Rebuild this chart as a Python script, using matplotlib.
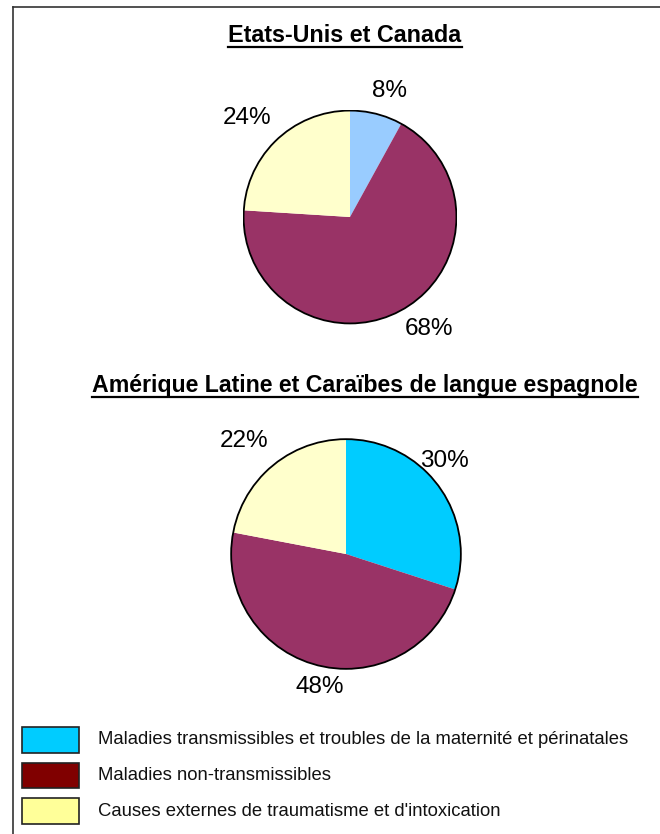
import numpy as np
import matplotlib.pyplot as plt
from matplotlib.patches import Circle, Rectangle
from matplotlib.lines import Line2D

plt.rcParams['font.family'] = ['Liberation Sans', 'DejaVu Sans']

W, H = 660, 834

# données
titres = ["Etats-Unis et Canada",
          "Amérique Latine et Caraïbes de langue espagnole"]
parts_usa = [8, 68, 24]
parts_alc = [30, 48, 22]
couleurs_usa = ['#99CCFF', '#993366', '#FFFFCC']
couleurs_alc = ['#00CCFF', '#993366', '#FFFFCC']
categories = ["Maladies transmissibles et troubles de la maternité et périnatales",
              "Maladies non-transmissibles",
              "Causes externes de traumatisme et d'intoxication"]
couleurs_legende = ['#00CCFF', '#800000', '#FFFF99']

# placement des étiquettes : distance au centre (en rayons) et décalage d'angle (degrés)
dist_usa, decal_usa = [1.24, 1.29, 1.34], [-3, 6.5, 3]
dist_alc, decal_alc = [1.18, 1.18, 1.32], [7.5, 3.4, 2.4]

fig = plt.figure(figsize=(W / 100, H / 100), dpi=100)


def px_axes(cx, cy, r):
    # axes carré centré sur (cx, cy) en pixels, origine en haut à gauche
    return fig.add_axes([(cx - r) / W, 1 - (cy + r) / H, 2 * r / W, 2 * r / H])


def camembert(cx, cy, r, valeurs, couleurs, dists, decals):
    ax = px_axes(cx, cy, r)
    wedges, _, pcts = ax.pie(valeurs, colors=couleurs, startangle=90, counterclock=False,
                             radius=1, autopct='%1.0f%%',
                             wedgeprops=dict(linewidth=0),
                             textprops=dict(fontsize=17.5))
    for w, t, d, da in zip(wedges, pcts, dists, decals):
        a = np.deg2rad((w.theta1 + w.theta2) / 2 + da)
        t.set_position((d * np.cos(a), d * np.sin(a)))
        t.set_clip_on(False)
    ax.add_patch(Circle((0, 0), 1, fill=False, edgecolor='black', linewidth=1.3))
    ax.set_xlim(-1.01, 1.01)
    ax.set_ylim(-1.01, 1.01)
    ax.set_aspect('equal')
    ax.axis('off')
    return ax


def titre_souligne(x, y, texte, taille):
    t = fig.text(x / W, 1 - y / H, texte, ha='center', va='baseline',
                 fontsize=taille, fontweight='bold')
    fig.canvas.draw()
    bb = t.get_window_extent()
    yl = 1 - (y + 5) / H
    fig.add_artist(Line2D([bb.x0 / W, bb.x1 / W], [yl, yl],
                          color='black', linewidth=1.6))


# cadre
fig.add_artist(Line2D([12.5 / W, 1], [1 - 7 / H, 1 - 7 / H], color='#333333', linewidth=1.2))
fig.add_artist(Line2D([12.5 / W, 12.5 / W], [0, 1 - 7 / H], color='#333333', linewidth=1.2))

titre_souligne(345, 42, titres[0], 16.8)
camembert(350, 217, 107.5, parts_usa, couleurs_usa, dist_usa, decal_usa)

titre_souligne(365, 392, titres[1], 16.7)
camembert(346, 554, 116, parts_alc, couleurs_alc, dist_alc, decal_alc)

# légende
for i, (lab, c) in enumerate(zip(categories, couleurs_legende)):
    y0 = 727 + i * 35.5
    fig.add_artist(Rectangle((22 / W, 1 - (y0 + 25.5) / H), 57 / W, 25.5 / H,
                             facecolor=c, edgecolor='#222222', linewidth=1.2,
                             transform=fig.transFigure))
    fig.text(98 / W, 1 - (y0 + 13) / H, lab, ha='left', va='center',
             fontsize=13.3, color='#111111')

fig.savefig('out.png', dpi=100, facecolor='white')
